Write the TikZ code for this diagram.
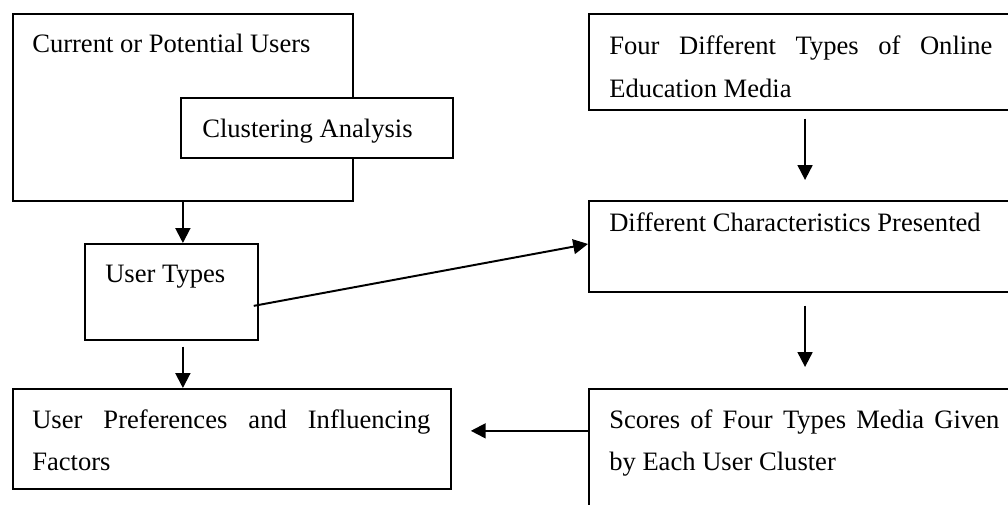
\documentclass[tikz,border=0pt]{standalone}
\usepackage{fontspec}
\setmainfont{Liberation Serif}
\usepackage{tikz}
\usetikzlibrary{arrows.meta}
\tikzset{>={Triangle[length=10.5pt,width=10.5pt]}}
\tikzset{box/.style={draw,line width=1.2pt,fill=white,inner sep=0pt,anchor=north west},
	lbl/.style={inner sep=0pt,anchor=base west},
	flow/.style={->,line width=1.4pt}}
\hyphenpenalty=10000
\exhyphenpenalty=10000

\begin{document}
\begin{tikzpicture}[x=0.025cm,y=-0.025cm,font=\fontsize{18.9}{29.9}\selectfont]
				\useasboundingbox (0,0) rectangle (1008,505);
				\clip (0,0) rectangle (1008,505);
				% left column
				\node[box,minimum width=8.5cm,minimum height=4.675cm] (users) at (12,13) {};
				\node[box,minimum width=6.8cm,minimum height=1.5cm] (cluster) at (180,97) {};
				\node[box,minimum width=4.325cm,minimum height=2.4cm] (types) at (84,243) {};
				\node[box,minimum width=10.95cm,minimum height=2.5cm] (prefs) at (12,388) {};
				% right column
				\node[box,minimum width=11.05cm,minimum height=2.4cm] (media) at (588,13) {};
				\node[box,minimum width=11.05cm,minimum height=2.275cm] (traits) at (588,200) {};
				\node[box,minimum width=11.05cm,minimum height=3.55cm] (scores) at (588,388) {};

				\node[lbl] (users-lbl) at (32,53) {Current or Potential Users};
				\node[lbl] (cluster-lbl) at (202,138) {Clustering Analysis};
				\node[lbl] (types-lbl) at (105,282) {User Types};
				\node[lbl,text width=9.95cm,align=justify] (prefs-lbl) at (32,428)
					{\hyphenpenalty=10000 User Preferences and Influencing Factors};
				\node[lbl,text width=9.575cm,align=justify] (media-lbl) at (609,55)
					{\hyphenpenalty=10000 Four Different Types of Online Education Media};
				\node[lbl] (traits-lbl) at (609,232) {Different Characteristics Presented};
				\node[lbl,text width=9.75cm,align=justify] (scores-lbl) at (609,428)
					{\hyphenpenalty=10000 Scores of Four Types Media Given by Each User Cluster};

				\draw[flow] (users.south) -- (users.south |- types.north);
				\draw[flow] ([yshift=-0.15cm]types.south -| users.south) -- (prefs.north -| users.south);
				\draw[flow] ([xshift=5.425cm,yshift=-0.2cm]media.south west) -- ([xshift=5.425cm,yshift=0.5cm]traits.north west);
				\draw[flow] ([xshift=5.425cm,yshift=-0.325cm]traits.south west) -- ([xshift=5.425cm,yshift=0.525cm]scores.north west);
				\draw[flow] ([xshift=-0.125cm,yshift=-0.35cm]types.east) -- ([yshift=0.06cm]traits.west);
				\coordinate (prefs-in) at ([xshift=0.475cm,yshift=0.2cm]prefs.east);
				\draw[flow] (scores.west |- prefs-in) -- (prefs-in);
			 \end{tikzpicture}
\end{document}
